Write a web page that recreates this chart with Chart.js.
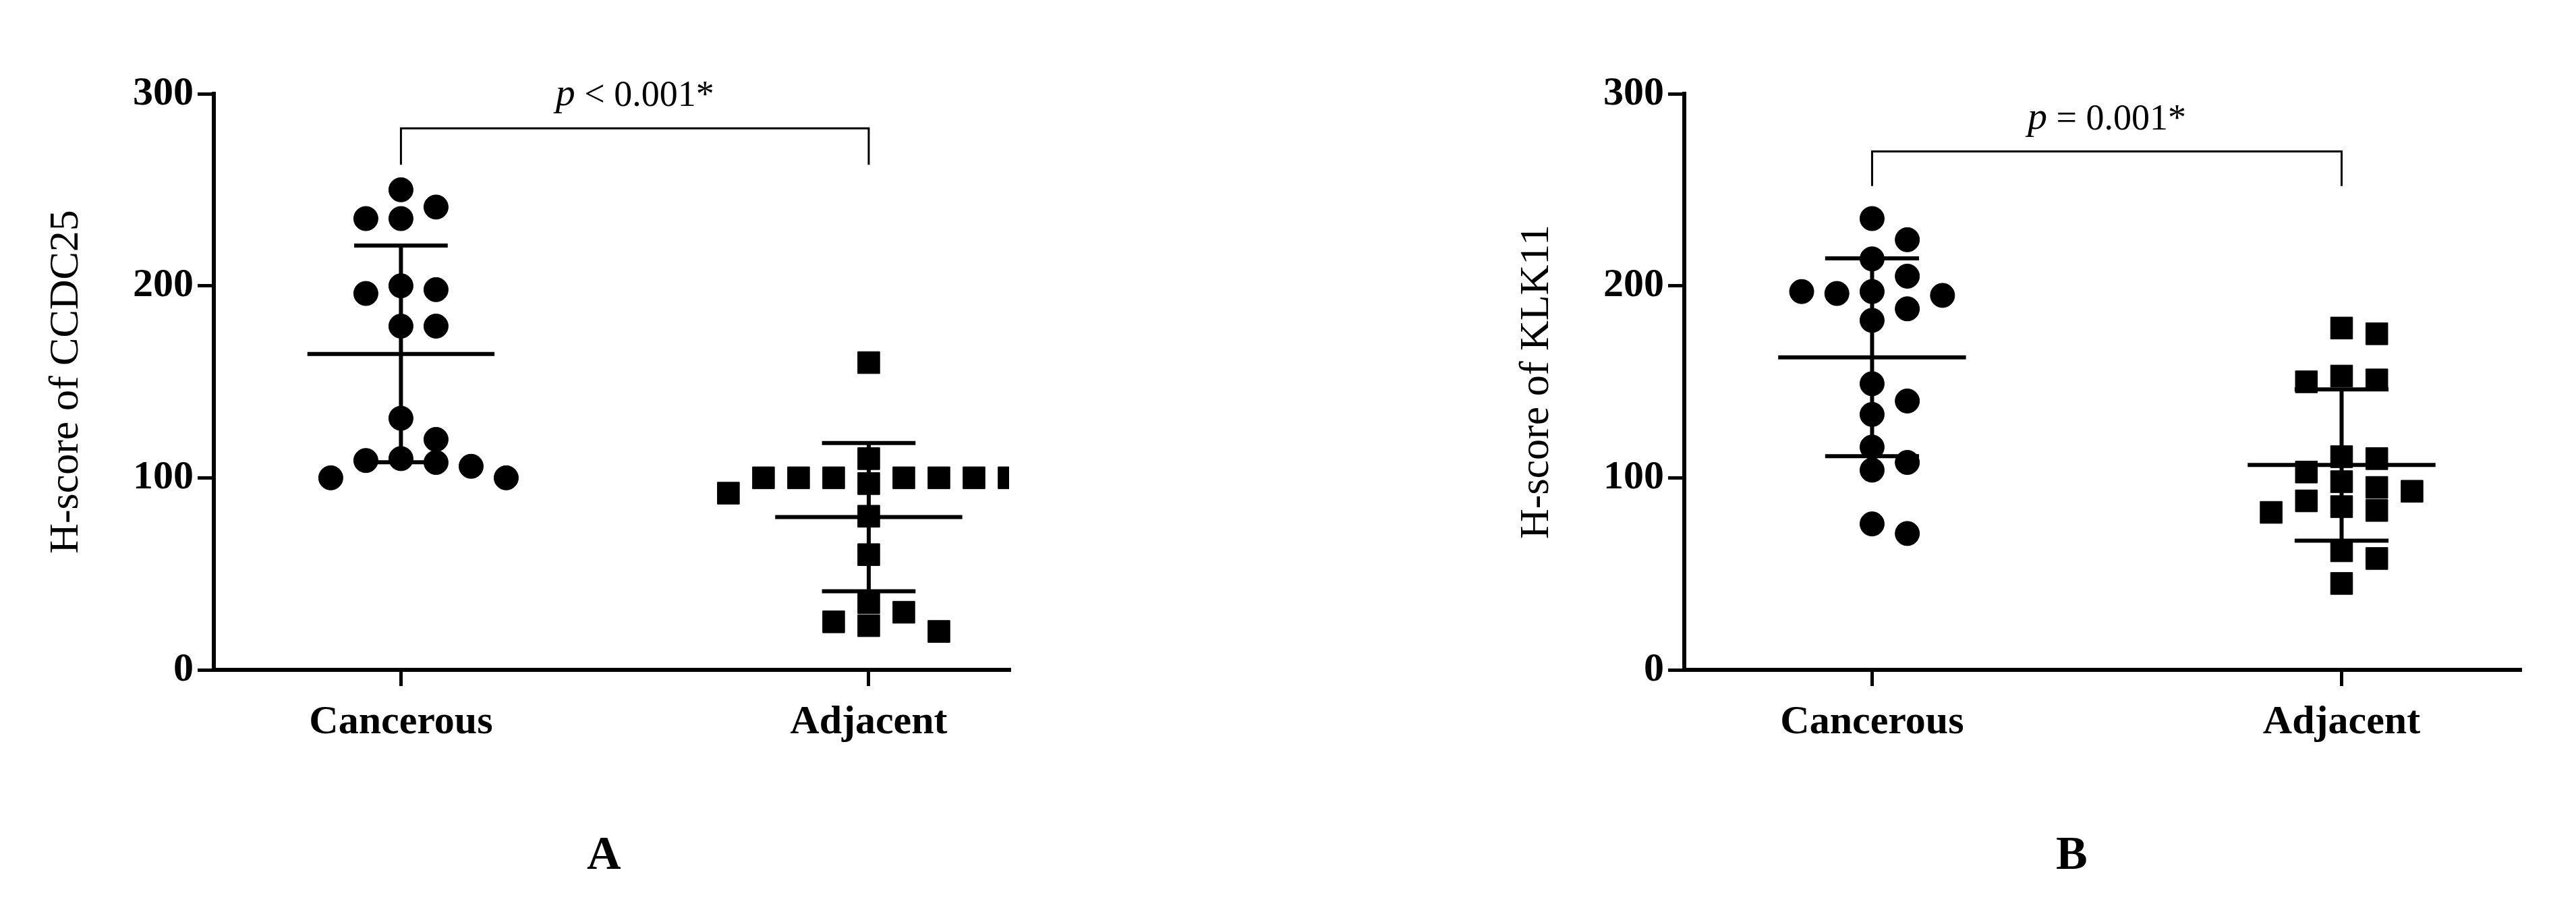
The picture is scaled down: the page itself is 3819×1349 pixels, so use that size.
<!DOCTYPE html>
<html>
<head>
<meta charset="utf-8">
<script src="https://cdn.jsdelivr.net/npm/chart.js@4"></script>
<style>
  body { margin: 0; width: 3819px; height: 1349px; background: #fff; position: relative; overflow: hidden; }
  .panel { position: absolute; top: 0; }
  .letter { position: absolute; top: 1225px; font: bold 70px "Liberation Serif", serif; }
</style>
</head>
<body>
<div class="panel" style="left:0px;width:1520px;height:1150px"><canvas id="chartA"></canvas></div>
<div class="panel" style="left:2180px;width:1580px;height:1150px"><canvas id="chartB"></canvas></div>
<div class="letter" style="left:870px">A</div>
<div class="letter" style="left:3048px">B</div>
<script>
// Categories and values
const categories = ['Cancerous', 'Adjacent'];
const ccdc25Cancerous = [250, 241, 235, 235, 200, 198, 196, 179, 179, 131, 120, 110, 109, 108, 106, 100, 100];
const ccdc25Adjacent = [160, 110, 100, 100, 100, 100, 100, 100, 100, 97, 92, 80, 60, 35, 30, 25, 23, 20];
const klk11Cancerous = [235, 224, 214, 205, 197, 196, 195, 197, 188, 182, 149, 140, 133, 116, 108, 104, 76, 71];
const klk11Adjacent = [178, 175, 153, 151, 150, 111, 110, 103, 98, 95, 93, 88, 85, 83, 82, 62, 58, 45];
const yTicks = [0, 100, 200, 300];

const serif = '"Liberation Serif", "DejaVu Serif", serif';

function mean(a) { return a.reduce((s, v) => s + v, 0) / a.length; }
function sd(a) {
  const m = mean(a);
  return Math.sqrt(a.reduce((s, v) => s + (v - m) * (v - m), 0) / (a.length - 1));
}

// spread points with similar values sideways (scatter-dot style)
function jitter(values, center) {
  const placed = [];
  const step = 0.075, tol = 12;
  return values.map(v => {
    const near = placed.filter(p => Math.abs(p.y - v) < tol).map(p => p.k);
    const order = [0, 1, -1, 2, -2, 3, -3, 4, -4];
    const k = order.find(o => !near.includes(o));
    placed.push({ y: v, k: k });
    return { x: center + k * step, y: v };
  });
}

function lineSet(points) {
  return {
    type: 'line', data: points, borderColor: '#000', borderWidth: 6,
    pointRadius: 0, showLine: true, order: 0
  };
}

function statLines(values, c) {
  const m = mean(values), s = sd(values);
  return [
    lineSet([{ x: c - 0.2, y: m }, { x: c + 0.2, y: m }]),
    lineSet([{ x: c, y: m - s }, { x: c, y: m + s }]),
    lineSet([{ x: c - 0.1, y: m + s }, { x: c + 0.1, y: m + s }]),
    lineSet([{ x: c - 0.1, y: m - s }, { x: c + 0.1, y: m - s }])
  ];
}

function makeChart(id, cancer, adjacent, title, pText, bracketY, bracketDrop, xMax) {
  const bracket = {
    type: 'line', data: [{ x: 1, y: bracketDrop }, { x: 1, y: bracketY }, { x: 2, y: bracketY }, { x: 2, y: bracketDrop }],
    borderColor: '#000', borderWidth: 3, pointRadius: 0, showLine: true
  };
  const pLabel = {
    id: 'pLabel',
    afterDraw(chart) {
      const ctx = chart.ctx;
      const x = chart.scales.x.getPixelForValue(1.5);
      const y = chart.scales.y.getPixelForValue(bracketY) - 20;
      ctx.save();
      ctx.fillStyle = '#000';
      ctx.textBaseline = 'bottom';
      ctx.font = 'italic 58px ' + serif;
      const pw = ctx.measureText('p').width;
      ctx.font = '54px ' + serif;
      const rw = ctx.measureText(pText).width;
      const left = x - (pw + rw) / 2;
      ctx.font = 'italic 58px ' + serif;
      ctx.fillText('p', left, y);
      ctx.font = '54px ' + serif;
      ctx.fillText(pText, left + pw, y);
      ctx.restore();
    }
  };
  return new Chart(document.getElementById(id), {
    type: 'scatter',
    data: {
      datasets: [
        { data: jitter(cancer, 1), pointStyle: 'circle', pointRadius: 18, backgroundColor: '#000', borderColor: '#000' },
        { data: jitter(adjacent, 2), pointStyle: 'rect', pointRadius: 23, backgroundColor: '#000', borderColor: '#000' },
        ...statLines(cancer, 1),
        ...statLines(adjacent, 2),
        bracket
      ]
    },
    options: {
      responsive: true,
      maintainAspectRatio: false,
      animation: false,
      layout: { padding: { left: 0, right: 10, top: 139, bottom: 0 } },
      plugins: { legend: { display: false }, tooltip: { enabled: false } },
      scales: {
        x: {
          type: 'linear', min: 0.6, max: xMax,
          afterBuildTicks: s => { s.ticks = [{ value: 1 }, { value: 2 }]; },
          afterFit: s => { s.height = 157; },
          border: { color: '#000', width: 6 },
          grid: { drawOnChartArea: false, drawTicks: true, tickLength: 24, color: '#000', lineWidth: 5 },
          ticks: {
            color: '#000', padding: 18,
            font: { family: serif, size: 60, weight: 'bold' },
            callback: v => categories[v - 1]
          }
        },
        y: {
          min: 0, max: 300,
          afterBuildTicks: s => { s.ticks = yTicks.map(v => ({ value: v })); },
          afterFit: s => { s.width = 317; },
          border: { color: '#000', width: 6 },
          grid: { drawOnChartArea: false, drawTicks: true, tickLength: 24, color: '#000', lineWidth: 5 },
          ticks: { color: '#000', padding: 6, font: { family: serif, size: 60, weight: 'bold' } },
          title: { display: true, text: title, color: '#000', font: { family: serif, size: 62 }, padding: { top: 62, bottom: 20 } }
        }
      }
    },
    plugins: [pLabel]
  });
}

makeChart('chartA', ccdc25Cancerous, ccdc25Adjacent, 'H-score of CCDC25', ' < 0.001*', 282, 263, 2.3);
makeChart('chartB', klk11Cancerous, klk11Adjacent, 'H-score of KLK11', ' = 0.001*', 270, 252, 2.38);
</script>
</body>
</html>
